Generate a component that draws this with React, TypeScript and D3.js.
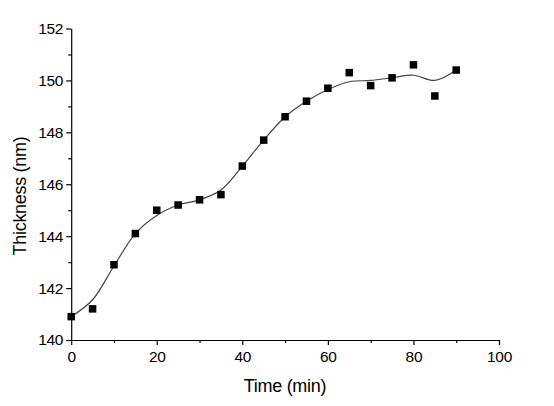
import React, { useRef, useEffect } from 'react';
import * as d3 from 'd3';

// measured thickness samples
const times = [0, 5, 10, 15, 20, 25, 30, 35, 40, 45, 50, 55, 60, 65, 70, 75, 80, 85, 90];
const thickness = [140.9, 141.2, 142.9, 144.1, 145.0, 145.2, 145.4, 145.6, 146.7, 147.7, 148.6, 149.2, 149.7, 150.3, 149.8, 150.1, 150.6, 149.4, 150.4];

// smoothed fit line
const fitTimes = [0, 5, 10, 15, 20, 25, 30, 35, 40, 45, 50, 55, 60, 65, 70, 75, 80, 85, 90];
const fitValues = [140.9, 141.55, 142.85, 144.1, 144.8, 145.2, 145.4, 145.78, 146.7, 147.7, 148.6, 149.2, 149.65, 149.95, 150.0, 150.1, 150.2, 150.0, 150.4];

const xMajor = [0, 20, 40, 60, 80, 100];
const yMajor = [140, 142, 144, 146, 148, 150, 152];

const W = 554;
const H = 406;
const FONT = "'Liberation Sans', Arial, sans-serif";

export default function App() {
    const svgRef = useRef<SVGSVGElement>(null);

    useEffect(() => {
        if (!svgRef.current) return;
        const svg = d3.select(svgRef.current);
        svg.selectAll("*").remove();

        const x = d3.scaleLinear().domain([0, 100]).range([71.2, 499]);
        const y = d3.scaleLinear().domain([140, 152]).range([340, 28.5]);

        const g = svg.append("g");

        // minor ticks
        const xMinor = d3.range(10, 100, 20);
        const yMinor = d3.range(141, 152, 2);

        // x axis
        const xAxis = g.append("g").attr("transform", `translate(0,${y(140)})`);
        xAxis.call(d3.axisBottom(x).tickValues(xMajor).tickSize(5).tickSizeOuter(0).tickPadding(6));
        xAxis.append("g").call(d3.axisBottom(x).tickValues(xMinor).tickSize(3).tickFormat(() => "")).select(".domain").remove();

        // y axis
        const yAxis = g.append("g").attr("transform", `translate(${x(0)},0)`);
        yAxis.call(d3.axisLeft(y).tickValues(yMajor).tickSize(5).tickSizeOuter(0).tickPadding(3));
        yAxis.append("g").call(d3.axisLeft(y).tickValues(yMinor).tickSize(3).tickFormat(() => "")).select(".domain").remove();

        svg.selectAll(".tick line, .domain").attr("stroke", "#000").attr("stroke-width", 1.2);
        svg.selectAll(".tick text")
            .attr("font-family", FONT)
            .attr("font-size", 15.5)
            .attr("letter-spacing", "-0.3px")
            .attr("fill", "#000");

        // fit curve
        const fit = fitTimes.map((t, i) => [t, fitValues[i]] as [number, number]);
        const line = d3.line<[number, number]>()
            .x(d => x(d[0]))
            .y(d => y(d[1]))
            .curve(d3.curveCatmullRom.alpha(0.5));

        g.append("path")
            .datum(fit)
            .attr("fill", "none")
            .attr("stroke", "#444")
            .attr("stroke-width", 1.2)
            .attr("d", line);

        // markers
        const s = 7.5;
        g.append("g")
            .selectAll("rect")
            .data(times.map((t, i) => [t, thickness[i]]))
            .join("rect")
            .attr("x", d => x(d[0]) - s / 2)
            .attr("y", d => y(d[1]) - s / 2)
            .attr("width", s)
            .attr("height", s)
            .attr("fill", "#000");

        // axis titles
        g.append("text")
            .attr("x", 285)
            .attr("y", 392)
            .attr("text-anchor", "middle")
            .attr("font-family", FONT)
            .attr("font-size", 18)
            .attr("letter-spacing", "-0.3px")
            .text("Time (min)");

        g.append("text")
            .attr("transform", `translate(26,196) rotate(-90)`)
            .attr("text-anchor", "middle")
            .attr("font-family", FONT)
            .attr("font-size", 18)
            .attr("letter-spacing", "-0.3px")
            .text("Thickness (nm)");
    }, []);

    return (
        <div style={{ position: "absolute", left: 0, top: 0, width: W, height: H, background: "#fff" }}>
            <svg ref={svgRef} width={W} height={H} viewBox={`0 0 ${W} ${H}`} />
        </div>
    );
}
